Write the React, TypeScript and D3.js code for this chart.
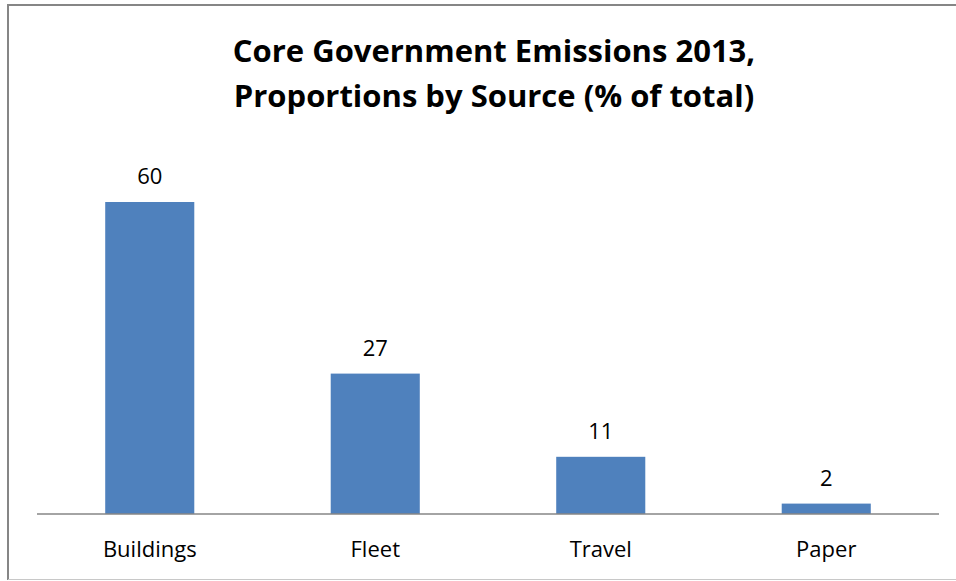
import React from "react";
import * as d3 from "d3";

const categories = ["Buildings", "Fleet", "Travel", "Paper"];
const values = [60, 27, 11, 2];
const titleLines = ["Core Government Emissions 2013,", "Proportions by Source (% of total)"];

const W = 956;
const H = 581;
const FONT = "'Open Sans', sans-serif";

export default function App() {
  const x = d3.scaleBand<string>().domain(categories).range([37, 939]).paddingInner(0.605).paddingOuter(0.3025);
  const y = d3.scaleLinear().domain([0, 60]).range([514, 202]);
  return (
    <svg width={W} height={H} style={{ position: "absolute", left: 0, top: 0 }}>
      <rect x={0} y={0} width={W} height={H} fill="#fff" />
      <path d="M8,580 L8,5 L956,5" fill="none" stroke="#868686" strokeWidth={2} />
      <line x1={8} x2={956} y1={579.5} y2={579.5} stroke="#c8c8c8" strokeWidth={1} />
      {titleLines.map((t, i) => (
        <text key={i} x={494} y={62 + i * 45} textAnchor="middle" fontFamily={FONT} fontWeight="bold" fontSize={31} fill="#000">
          {t}
        </text>
      ))}
      {categories.map((c, i) => (
        <g key={c}>
          <rect x={x(c)} y={y(values[i])} width={x.bandwidth()} height={y(0) - y(values[i])} fill="#4F81BD" />
          <text x={(x(c) as number) + x.bandwidth() / 2} y={y(values[i]) - 18} textAnchor="middle" fontFamily={FONT} fontSize={22} fill="#000">
            {values[i]}
          </text>
          <text x={(x(c) as number) + x.bandwidth() / 2} y={557} textAnchor="middle" fontFamily={FONT} fontSize={22} fill="#000">
            {c}
          </text>
        </g>
      ))}
      <line x1={37} x2={939} y1={514} y2={514} stroke="#868686" strokeWidth={1.5} />
    </svg>
  );
}
